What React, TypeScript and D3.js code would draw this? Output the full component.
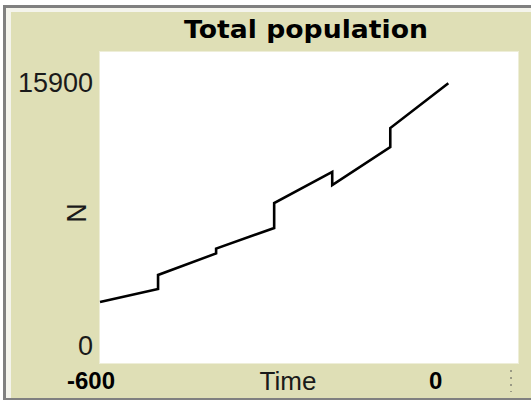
import React from "react";
import * as d3 from "d3";

const time = [-600, -500, -500, -400, -400, -300, -300, -200, -200, -100, -100, 0];
const population = [3120, 3780, 4500, 5600, 5850, 6900, 8180, 9770, 9100, 11040, 12010, 14300];
const yTickLabels = ["0", "15900"];
const xTickLabels = ["-600", "0"];

const W = 531;
const H = 403;
const plot = { left: 100, right: 518, top: 52, bottom: 363 };

export default function App() {
  const x = d3.scaleLinear().domain([-600, 120]).range([plot.left, plot.right]);
  const y = d3.scaleLinear().domain([0, 15900]).range([plot.bottom, plot.top]);
  const line = d3
    .line<number>()
    .x((_, i) => x(time[i]))
    .y((d) => y(d));
  const path = line(population) || "";
  const bg = "#dfdfb6";
  return (
    <svg
      width={W}
      height={H}
      style={{ position: "fixed", left: 0, top: 0, display: "block" }}
      fontFamily="'Liberation Sans', Arial, sans-serif"
    >
      <rect x={0} y={0} width={W} height={H} fill="#ffffff" />
      {/* outer frame */}
      <rect x={3} y={5} width={W} height={395} fill="#808080" />
      <rect x={6} y={8} width={W} height={390} fill="#f4f4ec" />
      <rect x={11} y={12} width={W} height={386} fill={bg} />
      {/* plot area */}
      <rect x={plot.left - 1} y={plot.top - 1} width={plot.right - plot.left + 2} height={plot.bottom - plot.top + 2} fill="#eeeed8" />
      <rect x={plot.left} y={plot.top} width={plot.right - plot.left} height={plot.bottom - plot.top} fill="#ffffff" />
      <path d={path} fill="none" stroke="#000" strokeWidth={2.6} strokeLinejoin="miter" />
      {/* title */}
      <text x={306} y={38} textAnchor="middle" fontFamily="'DejaVu Sans', Verdana, sans-serif" fontWeight="bold" fontSize={25} textLength={244} lengthAdjust="spacingAndGlyphs" fill="#000">
        Total population
      </text>
      {/* y labels */}
      <text x={93} y={92} textAnchor="end" fontSize={27} fill="#1a1a1a">{yTickLabels[1]}</text>
      <text x={93} y={y(0) - 8} textAnchor="end" fontSize={27} fill="#1a1a1a">{yTickLabels[0]}</text>
      <text transform={`translate(86,213) rotate(-90)`} textAnchor="middle" fontSize={27} fill="#1a1a1a">N</text>
      {/* x labels */}
      <text x={x(-600) + 15} y={389} textAnchor="end" fontWeight="bold" fontSize={24} fill="#000">{xTickLabels[0]}</text>
      <text x={x(0) - 6} y={389} textAnchor="end" fontWeight="bold" fontSize={24} fill="#000">{xTickLabels[1]}</text>
      <text x={288} y={390} textAnchor="middle" fontSize={26} fill="#1a1a1a">Time</text>
      <line x1={511} x2={511} y1={370} y2={392} stroke="#555" strokeWidth={1} strokeDasharray="2,5" />
    </svg>
  );
}
